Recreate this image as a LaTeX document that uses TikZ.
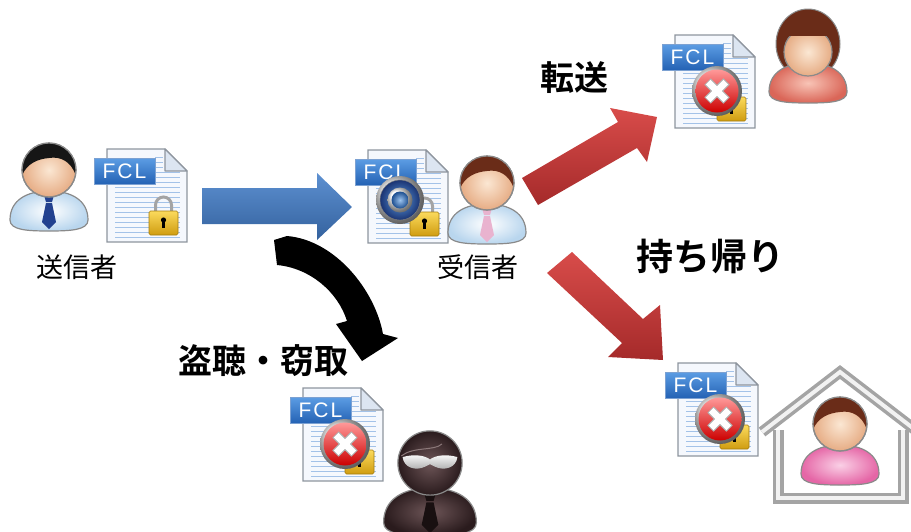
\documentclass[tikz,border=0pt]{standalone}
\usepackage{fontspec}
\usepackage{xcolor}
\newfontfamily\jpfont{Noto Sans CJK JP}
\newfontfamily\jpbold{Noto Sans CJK JP Bold}
\newfontfamily\fclfont{Liberation Sans}

\definecolor{outline}{HTML}{8A8A8A}
\definecolor{skinhi}{HTML}{FBE7D3}
\definecolor{skinlo}{HTML}{E6AC84}
\definecolor{shirt}{HTML}{B9D6EE}
\definecolor{navy}{HTML}{22418F}
\definecolor{rosetie}{HTML}{E9B3CF}
\definecolor{blackhair}{HTML}{161616}
\definecolor{brownhair}{HTML}{6A2C18}
\definecolor{salmonhi}{HTML}{F8C4B6}
\definecolor{salmonlo}{HTML}{DA6658}
\definecolor{pinkhi}{HTML}{FAD0E6}
\definecolor{pinklo}{HTML}{E566A6}
\definecolor{spyhi}{HTML}{6E5658}
\definecolor{spylo}{HTML}{2A1B1D}
\definecolor{docfill}{HTML}{F5F8FD}
\definecolor{docfold}{HTML}{DCE5F1}
\definecolor{docline}{HTML}{8E959E}
\definecolor{docrule}{HTML}{A3C2E8}
\definecolor{fclhi}{HTML}{5C9DE4}
\definecolor{fcllo}{HTML}{2462B4}
\definecolor{goldhi}{HTML}{FBDA5C}
\definecolor{goldlo}{HTML}{CF9C10}
\definecolor{sendhi}{HTML}{5D90D1}
\definecolor{sendlo}{HTML}{34629E}
\definecolor{leakhi}{HTML}{D84C4A}
\definecolor{leaklo}{HTML}{A52A2A}
\definecolor{silver}{HTML}{A4A4A4}

\tikzset{
  lbl/.style={font=\jpfont\fontsize{27}{27}\selectfont, inner sep=0pt},
  act/.style={font=\jpbold\fontsize{34}{34}\selectfont, inner sep=0pt},
  fcltag/.style={font=\fclfont\fontsize{21}{21}\selectfont, text=white, inner sep=0pt},
  skin/.style={inner color=skinhi, outer color=skinlo, draw=outline, line width=1.2pt},
  rule/.style={draw=docrule, line width=1pt},
  leak/.style={top color=leakhi, bottom color=leaklo},
}

% document icon: #1 tag name, #2 top-left corner, #3 badge
\newcommand{\fcldoc}[3]{%
  \begin{scope}[shift={#2}]
    \fill[docfill, draw=docline, line width=1.4pt] (0,0) -- (58,0) -- (80,22) -- (80,93) -- (0,93) -- cycle;
    \foreach \y in {8,13,18} \draw[rule] (48,\y) -- (56,\y);
    \foreach \y in {23,28,...,88} \draw[rule] (8,\y) -- (73,\y);
    \filldraw[fill=docfold, draw=docline, line width=1.2pt, line join=round] (58,0) -- (58,22) -- (80,22) -- cycle;
    \draw[silver, line width=3pt] (48.5,64) -- (48.5,56) arc[start angle=180, end angle=360, radius=8] -- (64.5,64);
    \shadedraw[top color=goldhi, bottom color=goldlo, draw=goldlo!80!black, line width=0.6pt, rounded corners=1.5pt] (42,62) rectangle (71,86);
    \fill (56.5,71) circle (2.6);
    \fill (55.2,71) rectangle (57.8,79);
    \shadedraw[top color=fclhi, bottom color=fcllo, draw=fcllo!60!white, line width=0.8pt] (-13,9) rectangle (48,35);
    \node[fcltag] (#1) at (17.5,22.5) {F\kern2pt C\kern2pt L};
    #3
  \end{scope}}

\newcommand{\okbadge}{%
  \shade[ball color=white!80!gray] (32,50) circle (24);
  \shadedraw[inner color=fclhi, outer color=navy!80!black, draw=gray] (32,50) circle (20);
  \shade[ball color=white] (32,50) circle (12.5);
  \shade[inner color=fclhi!60!white, outer color=fcllo!80!black] (32,50) circle (8.5);}

\newcommand{\ngbadge}{%
  \shade[ball color=white!80!gray] (42,56) circle (25);
  \shade[top color=red!40!white, bottom color=red!80!black] (42,56) circle (21.5);
  \draw[gray!60, line width=9pt] (32.5,46.5) -- (51.5,65.5) (51.5,46.5) -- (32.5,65.5);
  \draw[white, line width=6.5pt] (33.2,47.2) -- (50.8,64.8) (50.8,47.2) -- (33.2,64.8);}

% person parts, drawn round the centre of the head
\newcommand{\torso}[2]{%
  \shadedraw[inner color=#2, outer color=#1, draw=outline, line width=1.2pt]
    (-39,50) .. controls (-39,30) and (-22,21) .. (0,21) .. controls (22,21) and (39,30) .. (39,50)
    .. controls (39,60) and (22,61) .. (0,61) .. controls (-22,61) and (-39,60) .. (-39,50) -- cycle;}
\newcommand{\tie}[1]{%
  \fill[#1] (-5,25) -- (5,25) -- (3,32) -- (-3,32) -- cycle;
  \fill[#1] (-3,33) -- (3,33) -- (7,52) -- (0,59) -- (-7,52) -- cycle;}
\newcommand{\face}{\shadedraw[skin] (0,0) circle (27);}
\newcommand{\shorthair}[1]{%
  \fill[#1] (170:27) arc[start angle=170, end angle=370, radius=27]
    .. controls (22,-8) and (12,-14) .. (0,-12) .. controls (-12,-11) and (-22,-6) .. (170:27) -- cycle;
  \draw[outline, line width=1.2pt] (0,0) circle (27);}

\begin{document}
\begin{tikzpicture}[x=1pt, y=-1pt]
  \useasboundingbox (0,0) rectangle (911,531);

  % arrows
  \shade[top color=sendhi, bottom color=sendlo] (202,188) -- (317,188) -- (317,173) -- (352,207) -- (317,240) -- (317,224) -- (202,224) -- cycle;
  \shade[leak] (522,178) -- (618,122) -- (610,108) -- (657,117) -- (647,162) -- (637,148) -- (538,205) -- cycle;
  \shade[leak] (572,252) -- (643,319) -- (660,305) -- (663,360) -- (608,357) -- (622,343) -- (547,273) -- cycle;
  \fill[black] (277,265) .. controls (310,268) and (338,292) .. (347,321) -- (336,324) -- (362,361) -- (398,338) -- (383,334)
    .. controls (375,290) and (335,240) .. (287,236) -- (274,240) -- cycle;

  % sender
  \begin{scope}[shift={(49,170)}]
    \torso{shirt}{white}
    \tie{navy}
    \face
    \shorthair{blackhair}
  \end{scope}
  \fcldoc{sendtag}{(107,149)}{}

  % receiver
  \fcldoc{recvtag}{(368,150)}{\okbadge}
  \begin{scope}[shift={(487,183)}]
    \torso{shirt}{white}
    \tie{rosetie}
    \face
    \shorthair{brownhair}
  \end{scope}

  % forwarded
  \fcldoc{fwdtag}{(675,35)}{\ngbadge}
  \begin{scope}[shift={(808,42)}]
    \fill[brownhair, draw=outline, line width=1pt] (0,2) ellipse (32 and 35);
    \torso{salmonlo}{salmonhi}
    \fill[white] (-7,22) -- (7,22) -- (0,34) -- cycle;
    \begin{scope}
      \clip (-30,-6) rectangle (30,40);
      \shadedraw[skin] (0,10) circle (24);
    \end{scope}
  \end{scope}

  % taken home
  \fcldoc{hometag}{(678,363)}{\ngbadge}
  \draw[silver, line width=11pt, line join=miter] (762,432) -- (840,372) -- (918,432);
  \draw[silver, line width=11pt, line join=miter] (778,430) -- (778,498) -- (903,498) -- (903,430);
  \draw[white!90!gray, line width=4pt, line join=miter] (762,432) -- (840,372) -- (918,432);
  \draw[white!90!gray, line width=4pt, line join=miter] (778,430) -- (778,498) -- (903,498) -- (903,430);
  \begin{scope}[shift={(840,424)}]
    \torso{pinklo}{pinkhi}
    \face
    \shorthair{brownhair}
  \end{scope}

  % eavesdropper
  \fcldoc{spytag}{(303,388)}{\ngbadge}
  \begin{scope}[shift={(430,463)}, scale=1.19]
    \torso{spylo}{spyhi}
    \tie{spylo!60!black}
    \shadedraw[inner color=spyhi, outer color=spylo, draw=outline, line width=1.2pt] (0,0) circle (27);
    \draw[spyhi!80!white, line width=1pt] (-24,-6) .. controls (-14,-14) and (4,-10) .. (10,-16);
    \shade[top color=white, bottom color=gray!70] (-23,-5) .. controls (-12,-8) and (-4,-6) .. (0,-3)
      .. controls (4,-6) and (12,-8) .. (23,-5) .. controls (22,4) and (12,7) .. (4,3) -- (0,1) -- (-4,3)
      .. controls (-12,7) and (-22,4) .. (-23,-5) -- cycle;
  \end{scope}

  % labels
  \node[lbl] (sendername) at (77,267) {送信者};
  \node[lbl] (recvname) at (478,267) {受信者};
  \node[act] (forward) at (574,78) {転送};
  \node[act, font=\jpbold\fontsize{37}{37}\selectfont] (takehome) at (710,256) {持ち帰り};
  \node[act] (tap) at (263,361) {盗聴・窃取};
\end{tikzpicture}
\end{document}
